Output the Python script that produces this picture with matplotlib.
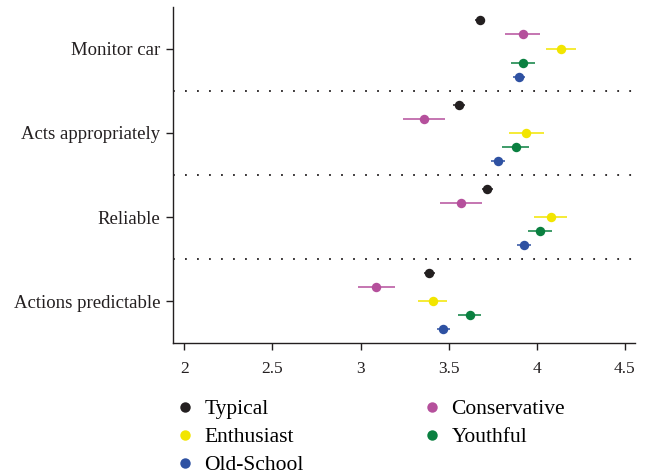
import matplotlib
matplotlib.use("Agg")
import matplotlib.pyplot as plt
from matplotlib.lines import Line2D

plt.rcParams['font.family'] = ['Liberation Serif', 'DejaVu Serif']

categories = ["Monitor car", "Acts appropriately", "Reliable", "Actions predictable"]
series = ["Typical", "Conservative", "Enthusiast", "Youthful", "Old-School"]
colors = ["#231f20", "#b5509c", "#f2e500", "#0a8040", "#2e51a2"]

# mean values per series, one per category (top to bottom)
typical_mean      = [3.68, 3.56, 3.72, 3.39]
conservative_mean = [3.92, 3.36, 3.57, 3.09]
enthusiast_mean   = [4.14, 3.94, 4.08, 3.41]
youthful_mean     = [3.92, 3.88, 4.02, 3.62]
oldschool_mean    = [3.90, 3.78, 3.93, 3.47]

typical_err      = [0.028, 0.034, 0.031, 0.031]
conservative_err = [0.100, 0.118, 0.119, 0.104]
enthusiast_err   = [0.085, 0.099, 0.093, 0.083]
youthful_err     = [0.068, 0.076, 0.068, 0.066]
oldschool_err    = [0.035, 0.040, 0.040, 0.038]

means = [typical_mean, conservative_mean, enthusiast_mean, youthful_mean, oldschool_mean]
errs = [typical_err, conservative_err, enthusiast_err, youthful_err, oldschool_err]

x_ticks = [2, 2.5, 3, 3.5, 4, 4.5]
x_ticklabels = ["2", "2.5", "3", "3.5", "4", "4.5"]

fig = plt.figure(figsize=(6.48, 4.74), dpi=100)
ax = fig.add_axes([0.267, 0.276, 0.713, 0.709])

group_gap = 6
for j, (name, col, m, e) in enumerate(zip(series, colors, means, errs)):
    ys = [i * group_gap + j for i in range(len(categories))]
    ax.errorbar(m, ys, xerr=e, fmt='o', color=col, ecolor=col, elinewidth=1.1,
                capsize=0, markersize=6.8, markeredgewidth=0, label=name)

for i in range(1, len(categories)):
    ax.axhline(i * group_gap - 1, color='#231f20', lw=1.3,
               linestyle=(0, (1, 5.65)), zorder=0)

ax.set_yticks([i * group_gap + 2 for i in range(len(categories))])
ax.set_yticklabels(categories, fontsize=13.5, color='#231f20')
ax.set_xticks(x_ticks)
ax.set_xticklabels(x_ticklabels, fontsize=12.5, color='#231f20')
ax.set_xlim(1.936, 4.558)
ax.set_ylim(22.98, -0.95)

for s in ['top', 'right']:
    ax.spines[s].set_visible(False)
for s in ['left', 'bottom']:
    ax.spines[s].set_color('#231f20')
    ax.spines[s].set_linewidth(1.0)
ax.tick_params(axis='both', length=5, width=1.0, color='#231f20')
ax.tick_params(axis='y', pad=4)
ax.tick_params(axis='x', pad=8)

order = [0, 2, 4, 1, 3]
handles = [Line2D([], [], marker='o', linestyle='none', color=colors[k],
                  markersize=7.5, markeredgewidth=0) for k in order]
labels = [series[k] for k in order]
fig.legend(handles, labels, loc='upper left', bbox_to_anchor=(174 / 648, 1 - 399 / 474),
           ncol=2, frameon=False, fontsize=15.5, handlelength=1.0, handletextpad=0.4,
           columnspacing=5.47, labelspacing=0.37, borderpad=0, borderaxespad=0)

fig.savefig("out.png", dpi=100)
